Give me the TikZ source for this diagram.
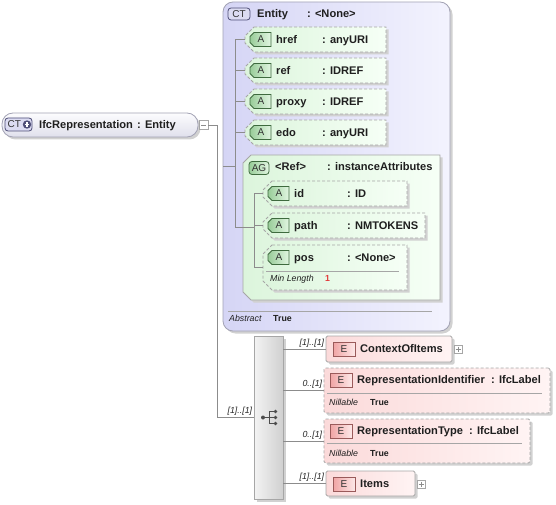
\documentclass[tikz,border=0pt]{standalone}
\usepackage{fontspec}
\setmainfont{Liberation Sans}
\usetikzlibrary{calc,shadows}

\definecolor{frame}{HTML}{A6A6A6}
\definecolor{wirecol}{HTML}{8C8C8C}
\definecolor{ctframe}{HTML}{A2A2B4}
\definecolor{ctleft}{HTML}{D5D5F5}
\definecolor{ctright}{HTML}{F3F3FE}
\definecolor{rootleft}{HTML}{FCFCFE}
\definecolor{rootright}{HTML}{E0E0EC}
\definecolor{attleft}{HTML}{DCF5DC}
\definecolor{attright}{HTML}{F6FFF6}
\definecolor{elleft}{HTML}{FBDADA}
\definecolor{elright}{HTML}{FFF4F4}
\definecolor{seqleft}{HTML}{F3F3F3}
\definecolor{seqright}{HTML}{D0D0D0}
\definecolor{badgect}{HTML}{DCDCF2}
\definecolor{badgectline}{HTML}{4E4E78}
\definecolor{badgeatt}{HTML}{98CC98}
\definecolor{badgeattright}{HTML}{E2F6E2}
\definecolor{badgeattline}{HTML}{3E6A3E}
\definecolor{badgeel}{HTML}{F0A4A4}
\definecolor{badgeelright}{HTML}{FDE8E8}
\definecolor{badgeelline}{HTML}{9A5A5A}
\definecolor{minred}{HTML}{E23A3A}

% chamfered outline: style, left, top, width, height, chamfer
\def\chamfer[#1](#2,#3)(#4:#5:#6){\path[#1] ({#2+#6},#3) -- ({#2+#4},#3) -- ({#2+#4},{#3+#5})
  -- ({#2+#6},{#3+#5}) -- (#2,{#3+#5-#6}) -- (#2,{#3+#6}) -- cycle;}

% attribute row: node, left, top, width, height, attribute, type, type column
\newcommand\attrow[8]{%
  \chamfer[attbox](#2,#3)(#4:#5:9)
  \node[boxsize={#4}{#5}] (#1) at (#2,#3) {};
  \chamfer[attbadge]({#2+5},{#3+5.5})(21:14:4)
  \node[badgefont,inner sep=0pt] (#1-badge) at ({#2+16},{#3+12.5}) {A};
  \node[namefont] (#1-name) at ({#2+31},{#3+12.5}) {#6};
  \node[namefont] (#1-type) at ({#2+#8},{#3+12.5}) {#7};
}

\tikzset{
  boxsize/.style 2 args={anchor=north west,inner sep=0pt,outer sep=0pt,
    minimum width=#1pt,minimum height=#2pt},
  boxshadow/.style={drop shadow={shadow xshift=2.5pt,shadow yshift=-2.5pt,
    fill=black!18,opacity=1}},
  namefont/.style={font=\fontsize{11.1}{12}\selectfont\bfseries,text=black!88,
    anchor=west,inner sep=0pt,text height=7.9pt,text depth=0pt},
  notefont/.style={font=\fontsize{8.8}{10}\selectfont\itshape,text=black!88,
    anchor=west,inner sep=0pt,text height=6.4pt,text depth=0pt},
  notevalue/.style={notefont,font=\fontsize{8.8}{10}\selectfont\bfseries},
  badgefont/.style={font=\fontsize{10}{12}\selectfont,text=black!80},
  wire/.style={draw=wirecol,line width=0.8pt},
  rule/.style={draw=frame,line width=0.8pt},
  card/.style={font=\fontsize{8.8}{10}\selectfont\itshape,text=black!85,
    inner sep=1.5pt,anchor=south east},
  ctbox/.style={draw=ctframe,line width=0.8pt,rounded corners=10pt,
    left color=ctleft,right color=ctright,boxshadow},
  rootbox/.style={draw=ctframe,line width=0.8pt,rounded corners=11pt,
    top color=rootleft,bottom color=rootright,boxshadow},
  ctbadge/.style={draw=badgectline,line width=0.8pt,rounded corners=3pt,
    fill=badgect,badgefont},
  agbadge/.style={draw=badgeattline,line width=0.8pt,rounded corners=3pt,
    left color=badgeatt,right color=badgeattright,badgefont},
  attbox/.style={draw=frame,line width=0.8pt,dash pattern=on 3pt off 2pt,
    left color=attleft,right color=attright,boxshadow},
  agbox/.style={attbox,solid},
  attbadge/.style={draw=badgeattline,line width=0.8pt,left color=badgeatt,
    right color=badgeattright},
  elbox/.style={draw=frame,line width=0.8pt,rounded corners=1.5pt,
    left color=elleft,right color=elright,boxshadow},
  optbox/.style={elbox,dash pattern=on 3pt off 2pt},
  elbadge/.style={draw=badgeelline,line width=0.8pt,left color=badgeel,
    right color=badgeelright,badgefont},
  seqbox/.style={draw=frame,line width=0.8pt,left color=seqleft,right color=seqright,boxshadow},
  togglebox/.style={draw=frame,line width=0.6pt,fill=white,boxsize={8}{8}},
}

\begin{document}
\begin{tikzpicture}[x=1pt,y=-1pt]
  \useasboundingbox (0,0) rectangle (556,505);

  %%%%% ROOT %%%%%
  \node[rootbox,boxsize={196}{24}] (root) at (2,113) {};
  \node[ctbadge,boxsize={27}{13}] (root-badge) at (5,118) {};
  \node[badgefont,anchor=west,inner sep=0pt] (root-ct) at (7.5,124.5) {CT};
  \fill[badgectline] (27,124.5) circle (4.2);
  \draw[white,line width=1.2pt] (24.6,124.5) -- (29.4,124.5) (27,122.1) -- (27,126.9);
  \node[namefont] (root-name) at (39,125) {IfcRepresentation};
  \node[namefont] (root-type) at (137,125) {: Entity};
  \node[togglebox,boxsize={9}{9}] (root-minus) at (199,120.5) {};
  \draw[wire,line width=0.6pt] ($(root-minus.center)+(-2.5,0)$) -- ($(root-minus.center)+(2.5,0)$);

  %%%%% BASE TYPE %%%%%
  \node[ctbox,boxsize={227}{329}] (entity) at (223,2) {};
  \node[ctbadge,boxsize={22}{12}] (entity-badge) at (228,8) {CT};
  \node[namefont] (entity-name) at (257,14) {Entity};
  \node[namefont] (entity-type) at (307,14) {: <None>};

  \attrow{href}{245}{27}{141}{25}{href}{: anyURI}{77}
  \attrow{ref}{245}{58}{141}{25}{ref}{: IDREF}{77}
  \attrow{proxy}{245}{89}{141}{25}{proxy}{: IDREF}{77}
  \attrow{edo}{245}{120}{141}{25}{edo}{: anyURI}{77}

  \chamfer[agbox](243,155)(197:145:8)
  \node[boxsize={197}{145}] (ag) at (243,155) {};
  \node[agbadge,boxsize={20}{13}] (ag-badge) at (249,161.5) {AG};
  \node[namefont] (ag-name) at (275,167) {<Ref>};
  \node[namefont] (ag-type) at (327,167) {: instanceAttributes};

  \attrow{id}{263}{181}{144}{25}{id}{: ID}{84}
  \attrow{path}{263}{213}{162}{25}{path}{: NMTOKENS}{84}
  \attrow{pos}{263}{245}{144}{45}{pos}{: <None>}{84}
  \draw[rule] (266,271) -- (399,271);
  \node[notefont] (pos-note) at (270,278) {Min Length};
  \node[notevalue,text=minred] (pos-value) at (325,278) {1};

  \coordinate (spine) at ($(entity.west)+(12,0)$);
  \draw[wire] (entity.west) -- (spine);
  \draw[wire] (spine |- href.west) -- (spine |- ag.west);
  \foreach \a in {href,ref,proxy,edo} \draw[wire] (spine |- \a.west) -- (\a.west);
  \coordinate (agspine) at ($(spine |- ag.west)+(19,0)$);
  \draw[wire] (spine |- ag.west) -- (agspine);
  \draw[wire] (agspine |- id.west) -- (agspine |- pos.west);
  \foreach \a in {id,path,pos} \draw[wire] (agspine |- \a.west) -- (\a.west);

  \draw[rule] (228,311) -- (432,311);
  \node[notefont] (entity-note) at (229,318) {Abstract};
  \node[notevalue] (entity-value) at (273,318) {True};

  %%%%% SEQUENCE %%%%%
  \node[seqbox,boxsize={29}{163}] (seq) at (254,336) {};
  \fill[black!70] ($(seq.center)+(-5.5,0)$) circle (2);
  \draw[black!70,line width=1pt] ($(seq.center)+(-5.5,0)$) -- ($(seq.center)+(0.5,0)$);
  \draw[black!70,line width=1pt] ($(seq.center)+(0.5,-6)$) -- ($(seq.center)+(0.5,6)$);
  \foreach \dy in {-6,0,6} {
    \draw[black!70,line width=1pt] ($(seq.center)+(0.5,\dy)$) -- ($(seq.center)+(7,\dy)$);
    \fill[black!70] ($(seq.center)+(7,\dy)$) circle (1.9);
  }
  \coordinate (rootspine) at ($(root-minus.east)+(9,0)$);
  \draw[wire] (root-minus.east) -- (rootspine) |- (seq.west) node[card] {[1]..[1]};

  %%%%% CHILDREN %%%%%
  \node[elbox,boxsize={126}{26}] (ctx) at (326,336) {};
  \node[elbadge,boxsize={22}{14}] (ctx-badge) at (333,342) {E};
  \node[namefont] (ctx-name) at (360,349) {ContextOfItems};
  \node[togglebox] (ctx-plus) at (454,345) {};
  \draw[wire,line width=0.6pt] ($(ctx-plus.center)+(-2.5,0)$) -- ++(5,0)
    ($(ctx-plus.center)+(0,-2.5)$) -- ++(0,5);

  \node[optbox,boxsize={226}{45}] (repid) at (324,368) {};
  \node[elbadge,boxsize={22}{14}] (repid-badge) at (330,373) {E};
  \node[namefont] (repid-name) at (357,379.5) {RepresentationIdentifier};
  \node[namefont] (repid-type) at (491,379.5) {: IfcLabel};
  \draw[rule] (327,393) -- (542,393);
  \node[notefont] (repid-note) at (329,402) {Nillable};
  \node[notevalue] (repid-value) at (370,402) {True};

  \node[optbox,boxsize={206}{44}] (reptype) at (324,419) {};
  \node[elbadge,boxsize={22}{14}] (reptype-badge) at (330,424) {E};
  \node[namefont] (reptype-name) at (357,430.5) {RepresentationType};
  \node[namefont] (reptype-type) at (469,430.5) {: IfcLabel};
  \draw[rule] (327,443) -- (522,443);
  \node[notefont] (reptype-note) at (329,453) {Nillable};
  \node[notevalue] (reptype-value) at (370,453) {True};

  \node[elbox,boxsize={89}{25}] (items) at (326,471) {};
  \node[elbadge,boxsize={22}{14}] (items-badge) at (333,477) {E};
  \node[namefont] (items-name) at (360,484) {Items};
  \node[togglebox] (items-plus) at (417,480) {};
  \draw[wire,line width=0.6pt] ($(items-plus.center)+(-2.5,0)$) -- ++(5,0)
    ($(items-plus.center)+(0,-2.5)$) -- ++(0,5);

  \draw[wire] (seq.east |- ctx.west) -- (ctx.west) node[card] {[1]..[1]};
  \draw[wire] (seq.east |- repid.west) -- (repid.west) node[card] {0..[1]};
  \draw[wire] (seq.east |- reptype.west) -- (reptype.west) node[card] {0..[1]};
  \draw[wire] (seq.east |- items.west) -- (items.west) node[card] {[1]..[1]};
\end{tikzpicture}
\end{document}
